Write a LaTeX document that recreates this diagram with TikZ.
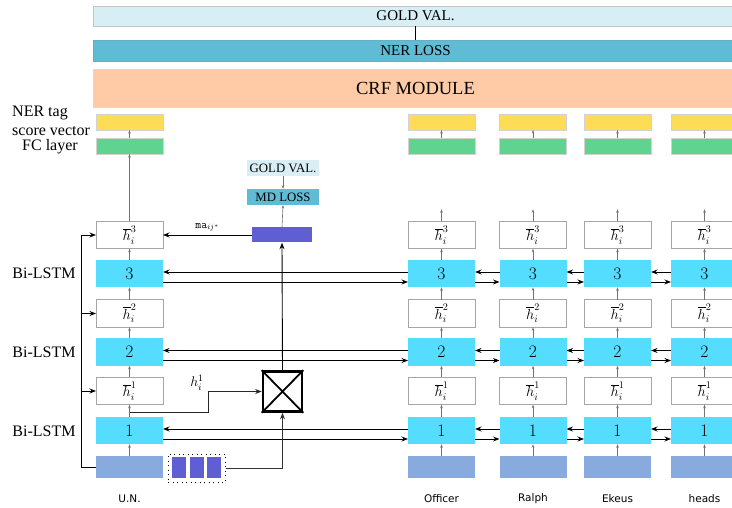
\RequirePackage{fix-cm}
\documentclass[tikz,border=0pt]{standalone}
\usepackage{fontspec}
\setmainfont{Liberation Serif}
\newfontfamily\wordfont{DejaVu Sans}
\usetikzlibrary{arrows.meta}
\definecolor{cGoldT}{HTML}{D6EEF4}
\definecolor{cLoss}{HTML}{60BBD4}
\definecolor{cCRF}{HTML}{FFCBA6}
\definecolor{cYel}{HTML}{FFDC55}
\definecolor{cGrn}{HTML}{60D390}
\definecolor{cLSTM}{HTML}{55DDFF}
\definecolor{cEmb}{HTML}{88AADD}
\definecolor{cPurp}{HTML}{5F5FD3}
\definecolor{cGoldS}{HTML}{DAEFF5}
\begin{document}
\begin{tikzpicture}[x=1pt,y=-1pt,
  base/.style={inner sep=0pt,outer sep=0pt,minimum width=67pt},
  wide/.style={inner sep=0pt,outer sep=0pt,minimum width=645pt,draw=gray!45,line width=0.5pt},
  yelbox/.style={base,minimum height=16pt,fill=cYel,draw=gray!35,line width=0.4pt},
  grnbox/.style={base,minimum height=16pt,fill=cGrn,draw=gray!35,line width=0.4pt},
  hbox/.style={base,minimum height=27.5pt,fill=white,draw=gray!70,line width=0.6pt,font=\fontsize{14.5}{17}\selectfont},
  lstmbox/.style={base,minimum height=27.5pt,fill=cLSTM,font=\fontsize{17.5}{20}\selectfont},
  embbox/.style={base,minimum height=22pt,fill=cEmb},
  lbl/.style={font=\fontsize{16}{19}\selectfont,inner sep=0pt},
  word/.style={font=\wordfont\fontsize{10.5}{12}\selectfont,inner sep=0pt},
  smallbox/.style={inner sep=0pt,minimum width=72pt,minimum height=16pt,font=\fontsize{12.8}{14}\selectfont},
  barrow/.style={-{Stealth[length=6.5pt,width=5pt]},line width=0.9pt,black},
  garrow/.style={-{Stealth[length=3.5pt,width=2.6pt]},line width=0.6pt,black!55},
  bline/.style={line width=0.9pt,black}
]
\useasboundingbox (0,0) rectangle (732,508);
\clip (0,0) rectangle (732,508);

% top wide boxes
\node[wide,fill=cGoldT,minimum height=20pt,font=\fontsize{15}{18}\selectfont] (goldT) at (415.5,16) {GOLD VAL.};
\node[wide,fill=cLoss,draw=cLoss!80!gray,minimum height=21pt,font=\fontsize{15}{18}\selectfont] (nerloss) at (415.5,50.5) {NER LOSS};
\node[wide,fill=cCRF,draw=gray!30,minimum height=38pt,font=\fontsize{18.5}{22}\selectfont] (crf) at (415.5,88) {CRF MODULE};
\draw[line width=0.6pt] (goldT.south) -- (nerloss.north);

% left labels
\node[lbl,align=left,anchor=west] (nertag) at (12,121) {NER tag\\score vector};
\node[lbl] (fclayer) at (50,147) {FC layer};
\node[lbl] (bil3) at (44,273.5) {Bi-LSTM};
\node[lbl] (bil2) at (44,352) {Bi-LSTM};
\node[lbl] (bil1) at (44,431) {Bi-LSTM};

% columns
\foreach \c/\x in {A/129.5,B/441.5,C/533,D/617.5,E/704.5}{
  \node[yelbox] (yel\c) at (\x,122) {};
  \node[grnbox] (grn\c) at (\x,146) {};
  \node[hbox] (hc\c) at (\x,235) {$\overline{h}_i^{3}$};
  \node[lstmbox] (LC\c) at (\x,273.5) {$3$};
  \node[hbox] (hb\c) at (\x,313.5) {$\overline{h}_i^{2}$};
  \node[lstmbox] (LB\c) at (\x,352) {$2$};
  \node[hbox] (ha\c) at (\x,391) {$\overline{h}_i^{1}$};
  \node[lstmbox] (LA\c) at (\x,430.5) {$1$};
  \node[embbox] (emb\c) at (\x,467) {};
  \draw[garrow] (emb\c.north) -- (LA\c.south);
  \draw[garrow] (LA\c.north) -- (ha\c.south);
  \draw[garrow] (ha\c.north) -- (LB\c.south);
  \draw[garrow] (LB\c.north) -- (hb\c.south);
  \draw[garrow] (hb\c.north) -- (LC\c.south);
  \draw[garrow] (LC\c.north) -- (hc\c.south);
  \draw[garrow] (grn\c.north) -- (yel\c.south);
}
\draw[garrow] (hcA.north) -- (grnA.south);
\foreach \c in {B,C,D,E}{
  \draw[garrow] (hc\c.north) -- ++(0,-12) coordinate (top\c);
}

% horizontal bi-directional connectors
\foreach \l in {A,B,C}{
  \foreach \a/\b in {A/B,B/C,C/D,D/E}{
    \draw[barrow] ([yshift=1.5pt]L\l\b.west) -- ([yshift=1.5pt]L\l\a.east);
    \draw[barrow] ([yshift=-8.5pt]L\l\a.east) -- ([yshift=-8.5pt]L\l\b.west);
  }
}

% residual bus on the left
\draw[bline] (embA.west) -- ++(-15,0) coordinate (bus);
\draw[barrow] (bus) |- (hcA.west);
\draw[barrow] (bus) |- (hbA.west);
\draw[barrow] (bus) |- (haA.west);

% character boxes
\node[draw=black,line width=1pt,dash pattern=on 0.9pt off 3.6pt,minimum width=57pt,minimum height=28pt,inner sep=0pt] (chr) at (196.5,468) {};
\node[fill=cPurp,minimum width=14pt,minimum height=21pt,inner sep=0pt] (chA) at (179,467.5) {};
\node[fill=cPurp,minimum width=14pt,minimum height=21pt,inner sep=0pt] (chB) at (196.5,467.5) {};
\node[fill=cPurp,minimum width=14pt,minimum height=21pt,inner sep=0pt] (chC) at (214,467.5) {};

% X box
\node[draw=black,line width=2.6pt,minimum width=39pt,minimum height=40pt,inner sep=0pt,fill=white] (X) at (282.5,391.5) {};
\draw[line width=1.8pt] (X.north west) -- (X.south east);
\draw[line width=1.8pt] (X.north east) -- (X.south west);
\draw[barrow,black!80] (chr.east) -| (X.south);

% h_i^1 path
\coordinate (hsrc) at (129.5,412);
\draw[barrow,black!85] (hsrc) -- (208,412) |- (X.west);
\node[font=\fontsize{14}{16}\selectfont,inner sep=0pt] (hlab) at (197,383) {$h_i^1$};

% MD branch
\node[fill=cPurp,minimum width=60pt,minimum height=15pt,inner sep=0pt] (mapurp) at (282,235) {};
\node[smallbox,fill=cLoss] (mdloss) at (283,197) {MD LOSS};
\node[smallbox,fill=cGoldS] (goldS) at (283,168) {GOLD VAL.};
\draw[barrow] (X.north) -- (mapurp.south);
\draw[garrow] (mapurp.north) -- (mdloss.south);
\draw[garrow] (goldS.south) -- (mdloss.north);
\draw[barrow] (mapurp.west) -- (hcA.east) node[midway,above=3pt,font=\fontsize{11.5}{13}\selectfont,inner sep=0pt] {\texttt{ma}$_{ij^*}$};

% word labels
\node[word] (wUN) at (129.5,499) {U.N.};
\node[word] (wOff) at (441.5,499) {Officer};
\node[word] (wRal) at (533,499) {Ralph};
\node[word] (wEke) at (617.5,499) {Ekeus};
\node[word] (wHea) at (704.5,499) {heads};
\end{tikzpicture}
\end{document}
